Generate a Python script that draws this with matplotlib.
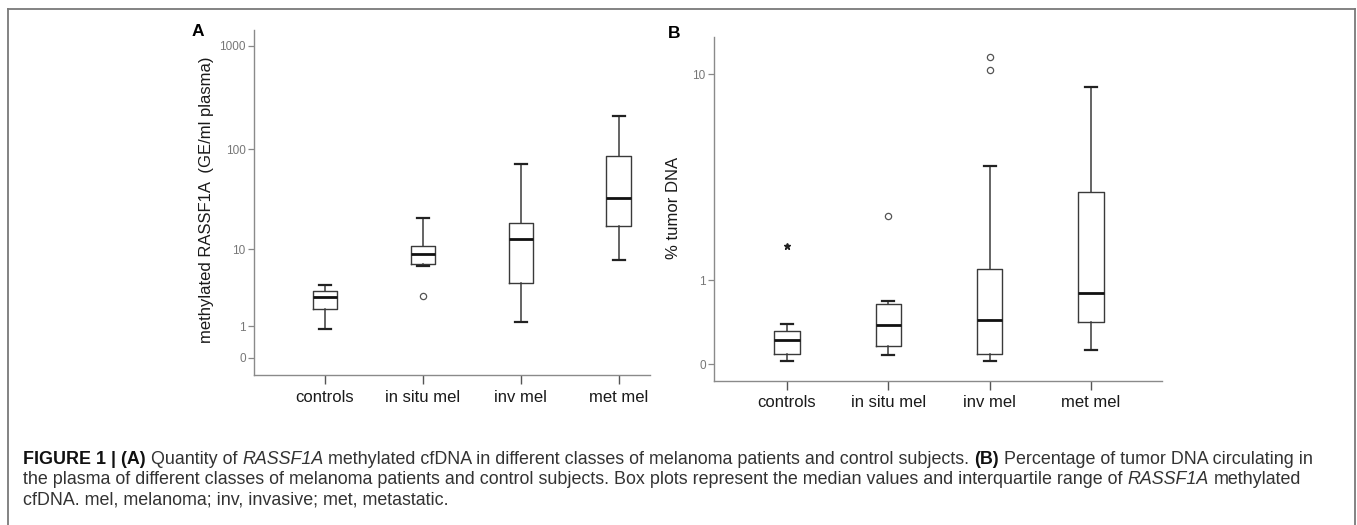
import numpy as np
import matplotlib.pyplot as plt
from matplotlib.lines import Line2D

plt.rcParams['font.family'] = ['Liberation Sans', 'DejaVu Sans']

groups = ["controls", "in situ mel", "inv mel", "met mel"]

# panel A: methylated RASSF1A (GE/ml plasma)
a_whislo = [0.87, 6.7, 1.19, 7.8]
a_q1 = [1.94, 6.9, 4.2, 17.6]
a_med = [2.8, 8.9, 12.9, 33.2]
a_q3 = [3.4, 11.0, 18.6, 85.6]
a_whishi = [4.0, 21.1, 71.6, 209]
a_outliers = [[], [2.95], [], []]
a_ticks = [0, 1, 10, 100, 1000]

# panel B: % tumor DNA
b_whislo = [0.031, 0.077, 0.025, 0.126]
b_q1 = [0.086, 0.16, 0.089, 0.42]
b_med = [0.22, 0.38, 0.44, 0.81]
b_q3 = [0.32, 0.64, 1.19, 3.17]
b_whishi = [0.39, 0.69, 4.13, 8.93]
b_outliers = [[], [2.41], [11.66, 10.37], []]
b_extremes = [[1.65], [], [], []]
b_ticks = [0, 1, 10]

# caption, as (text, style) pieces per line
caption = [
    [("FIGURE 1 | (A)", "b"), (" Quantity of ", "n"), ("RASSF1A", "i"),
     (" methylated cfDNA in different classes of melanoma patients and control subjects. ", "n"),
     ("(B)", "b"), (" Percentage of tumor DNA circulating in", "n")],
    [("the plasma of different classes of melanoma patients and control subjects. "
      "Box plots represent the median values and interquartile range of ", "n"),
     ("RASSF1A", "i"), (" methylated", "n")],
    [("cfDNA. mel, melanoma; inv, invasive; met, metastatic.", "n")],
]


def fwd(x):
    return np.log10(np.asarray(x) + 1)


def inv(y):
    return 10 ** np.asarray(y) - 1


def make_stats(lo, q1, med, q3, hi, out):
    return [dict(whislo=lo[i], q1=q1[i], med=med[i], q3=q3[i], whishi=hi[i],
                 fliers=out[i]) for i in range(len(lo))]


fig = plt.figure(figsize=(13.57, 5.25), dpi=100)
W, H = 1357., 525.


def px_axes(l, t, r, b):
    return fig.add_axes([l / W, 1 - b / H, (r - l) / W, (b - t) / H])


axA = px_axes(254, 30, 650, 375)
axB = px_axes(714, 36.7, 1162, 380.7)

box_col = '#3a3a3a'
props = dict(
    widths=0.25, capwidths=0.12, patch_artist=False,
    boxprops=dict(color=box_col, linewidth=1.0),
    whiskerprops=dict(color=box_col, linewidth=1.1),
    capprops=dict(color='#222222', linewidth=1.6),
    medianprops=dict(color='#111111', linewidth=2.0),
    flierprops=dict(marker='o', markerfacecolor='none', markeredgecolor='#555555',
                    markersize=4.5, markeredgewidth=0.9, linestyle='none'),
)

pos = np.arange(1, len(groups) + 1)

axA.set_yscale('function', functions=(fwd, inv))
axA.bxp(make_stats(a_whislo, a_q1, a_med, a_q3, a_whishi, a_outliers),
        positions=pos, **props)
axA.set_ylim(inv(-0.1665), inv(3.154))
axA.set_xlim(0.275, 4.32)
axA.set_yticks(a_ticks)
axA.set_yticklabels([str(t) for t in a_ticks])

axB.set_yscale('function', functions=(fwd, inv))
axB.bxp(make_stats(b_whislo, b_q1, b_med, b_q3, b_whishi, b_outliers),
        positions=pos, **props)
for p, ext in zip(pos, b_extremes):
    if ext:
        axB.plot([p] * len(ext), ext, '*', color='#222222', markersize=4.5)
axB.set_ylim(inv(-0.0589), inv(1.176))
axB.set_xlim(0.279, 4.70)
axB.set_yticks(b_ticks)
axB.set_yticklabels([str(t) for t in b_ticks])

for ax in (axA, axB):
    for s in ('top', 'right'):
        ax.spines[s].set_visible(False)
    for s in ('left', 'bottom'):
        ax.spines[s].set_color('#8a8a8a')
        ax.spines[s].set_linewidth(1.0)
    ax.set_xticks(pos)
    ax.set_xticklabels(groups, fontsize=12, color='#1a1a1a')
    ax.tick_params(axis='x', direction='out', length=6.5, width=1.0,
                   color='#555555', pad=4)
    ax.tick_params(axis='y', direction='out', length=4, width=0.9,
                   color='#888888', labelcolor='#777777', labelsize=8.5, pad=2)
    ax.yaxis.set_minor_locator(plt.NullLocator())

axA.text((207 - 254) / 396, (375 - 200) / 345, "methylated RASSF1A  (GE/ml plasma)",
         transform=axA.transAxes, rotation=90, ha='center', va='center',
         fontsize=12, color='#1a1a1a')
axB.text((673 - 714) / 448, (380.7 - 208) / 344, "% tumor DNA",
         transform=axB.transAxes, rotation=90, ha='center', va='center',
         fontsize=12, color='#1a1a1a')

fig.text(192 / W, 1 - 32 / H, "A", fontsize=12.5, fontweight='bold', va='center', ha='left')
fig.text(668 / W, 1 - 33 / H, "B", fontsize=12.5, fontweight='bold', va='center', ha='left')

# frame
fc = '#7a7a7a'
fig.add_artist(Line2D([7.5 / W, 1355 / W], [1 - 9 / H, 1 - 9 / H], transform=fig.transFigure, color=fc, lw=1.3))
fig.add_artist(Line2D([7.5 / W, 7.5 / W], [1 - 9 / H, 0], transform=fig.transFigure, color=fc, lw=1.3))
fig.add_artist(Line2D([1355 / W, 1355 / W], [1 - 9 / H, 0], transform=fig.transFigure, color=fc, lw=1.3))

# caption drawn piece by piece so bold / italic can mix
rend = fig.canvas.get_renderer()
cap_fs = 12.9


def text_w(s):
    t = fig.text(0, 0, s, fontsize=cap_fs)
    w = t.get_window_extent(rend).width
    t.remove()
    return w


space_w = text_w("x x") - text_w("xx")
styles = {"n": dict(color='#333333'),
          "b": dict(color='#111111', fontweight='bold'),
          "i": dict(color='#333333', fontstyle='italic')}

for i, line in enumerate(cap_lines := caption):
    x = 23.0
    y = 1 - (460 + 20 * i) / H
    for txt, st in line:
        lead = len(txt) - len(txt.lstrip(' '))
        trail = len(txt) - len(txt.rstrip(' '))
        x += lead * space_w
        core = txt.strip(' ')
        t = fig.text(x / W, y, core, fontsize=cap_fs, ha='left', va='center', **styles[st])
        x = t.get_window_extent(rend).x1 + trail * space_w

fig.savefig("out.png", dpi=100)
